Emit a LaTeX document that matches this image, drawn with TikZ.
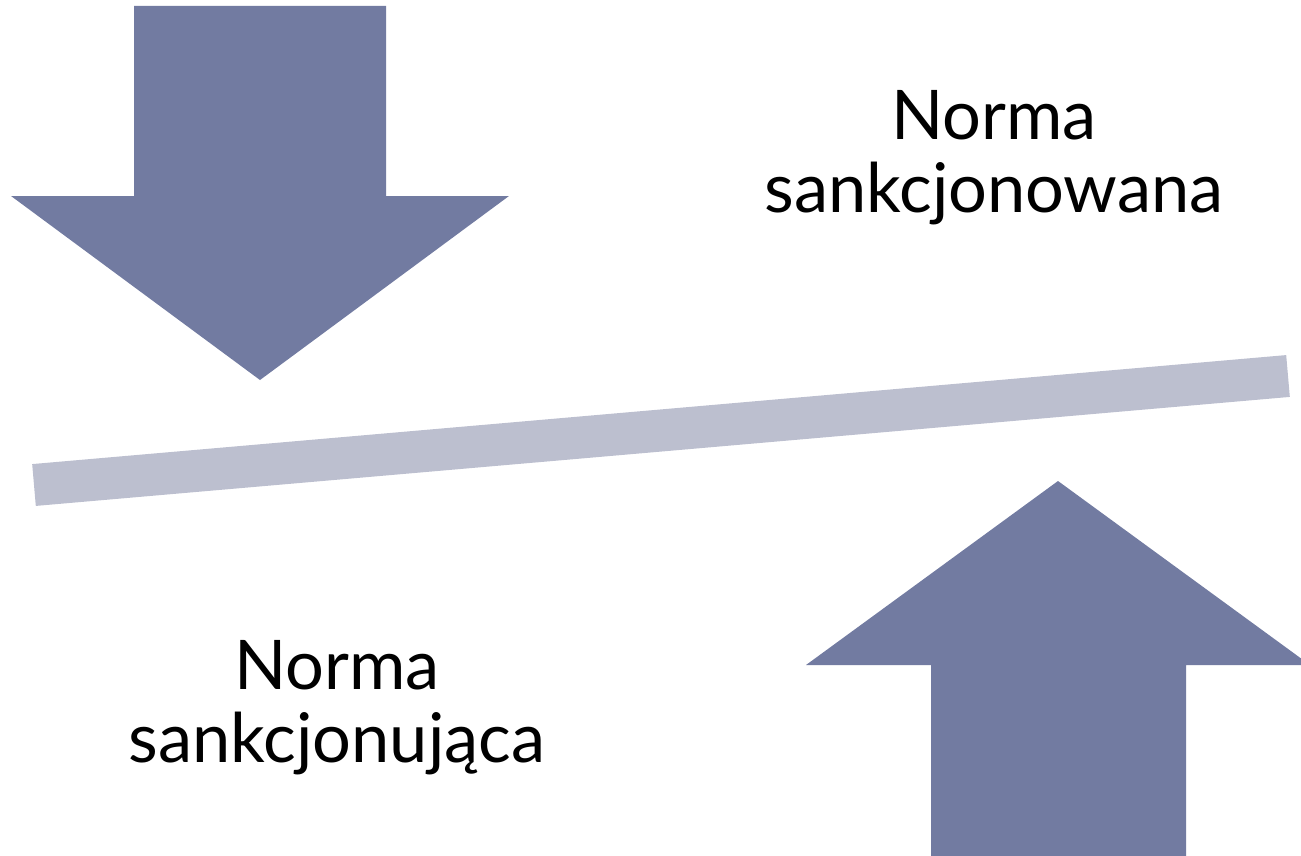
\documentclass[tikz,border=0pt]{standalone}
\usepackage{fontspec}
\setmainfont{Lato}
\usepackage{xcolor}
\usepackage{tikz}
\usetikzlibrary{positioning,calc}
\definecolor{arrowblue}{RGB}{114,123,161}
\definecolor{barblue}{RGB}{188,191,207}

\begin{document}
\begin{tikzpicture}[x=0.02cm, y=-0.02cm,
    bigarrow/.style={fill=arrowblue, draw=none},
    normtext/.style={align=center, anchor=base, inner sep=0pt, font=\fontsize{39}{41}\selectfont}]
    \useasboundingbox (0,0) rectangle (1301,855);
    % arrow pressing down
    \fill[bigarrow] (134,6) -- (386,6) -- (386,196) -- (509,196) -- (260,380)
        -- (11,196) -- (134,196) -- cycle;
    % arrow pushing up
    \fill[bigarrow] (931,870) -- (931,665) -- (806,665) -- (1058,481)
        -- (1310,665) -- (1186,665) -- (1186,870) -- cycle;
    % tilted bar
    \coordinate (barL) at (34,485);
    \coordinate (barR) at (1288,376);
    \draw[barblue, line width=0.84cm] (barL) -- (barR);
    \node[normtext] (sankcjonowana) at (994,212) {Norma\\sankcjonowana};
    \node[normtext] (sankcjonujaca) at (337,762) {Norma\\sankcjonująca};
\end{tikzpicture}
\end{document}
